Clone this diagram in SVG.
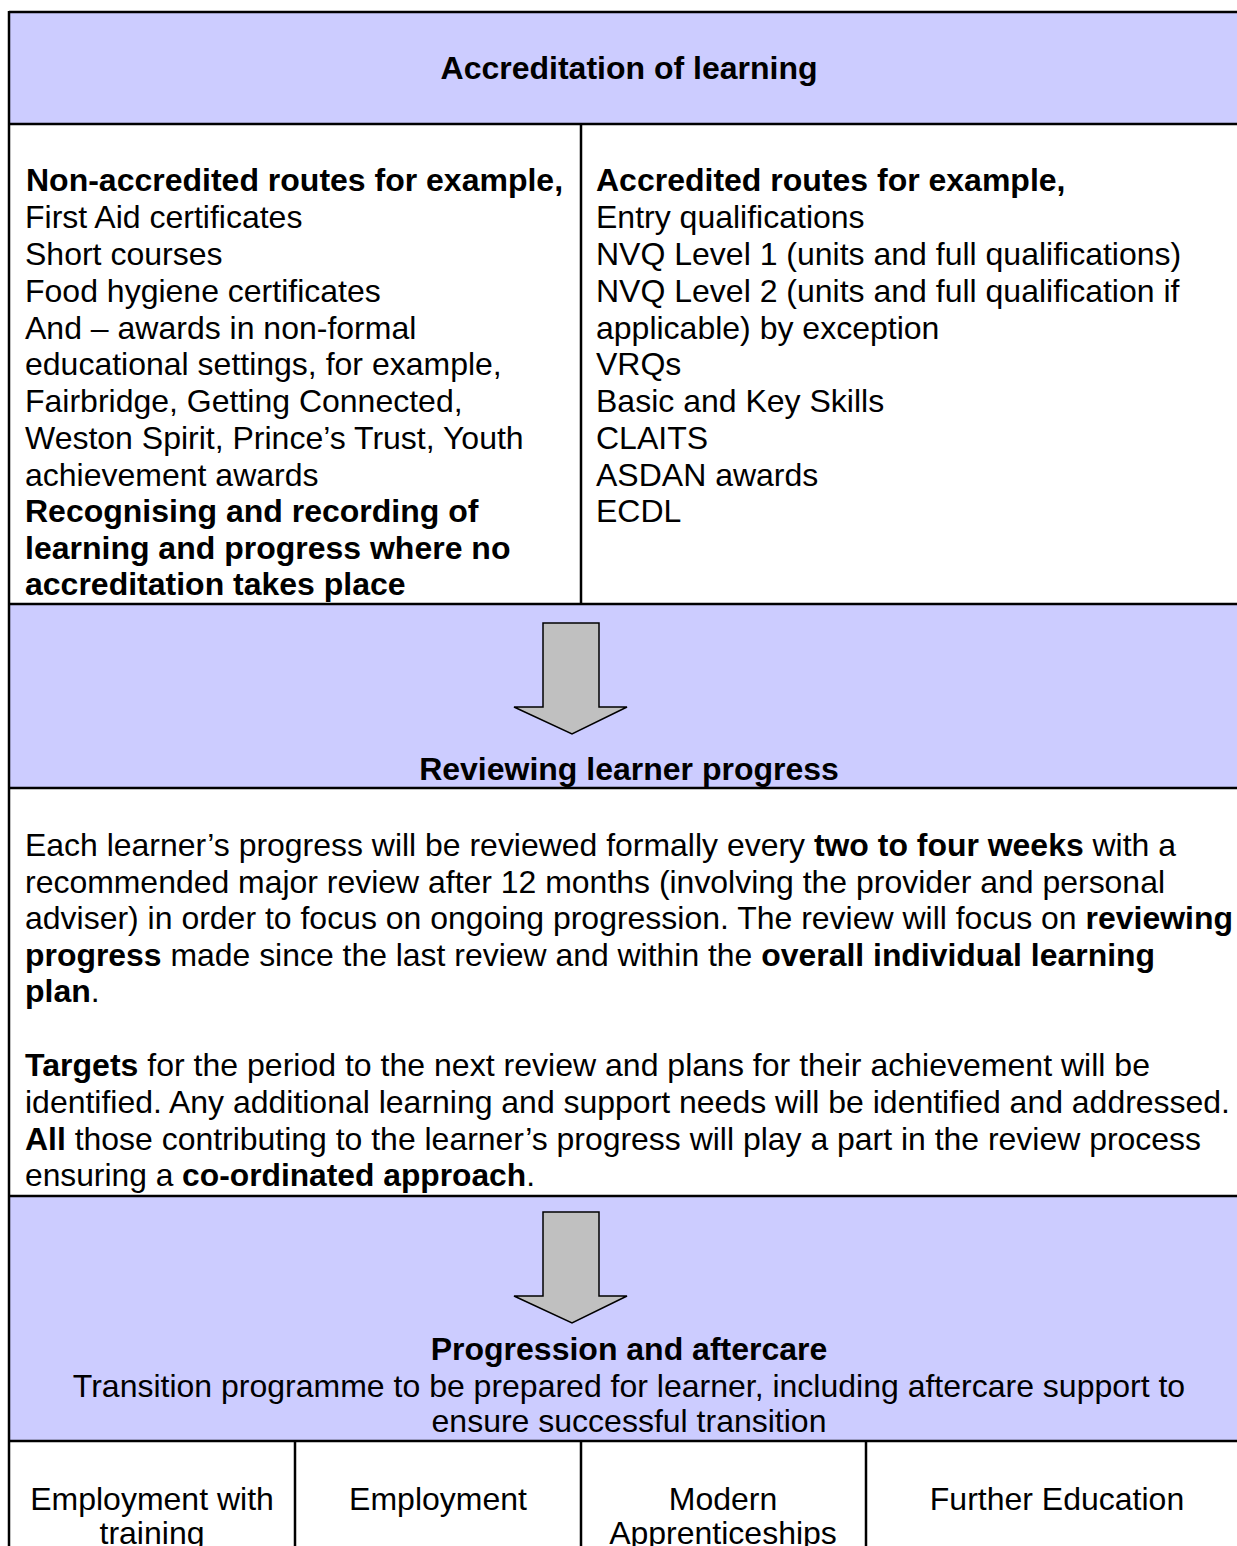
<svg xmlns="http://www.w3.org/2000/svg" width="1237" height="1546" viewBox="0 0 1237 1546">
<style>
text{font-family:"Liberation Sans",Arial,sans-serif;font-size:32px;fill:#000}
.b{font-weight:bold}
.c{text-anchor:middle}
.band{fill:#CCCCFF}
.ln{stroke:#000;stroke-width:2.5;fill:none}
.arrow{fill:#C0C0C0;stroke:#000;stroke-width:1.5;stroke-linejoin:miter}
</style>
<defs>
<path id="arr" class="arrow" d="M543,0 H599 V84 H627 L572,111 L514,84 H543 Z"/>
</defs>
<rect x="0" y="0" width="1237" height="1546" fill="#fff"/>

<g id="accreditation-header">
<rect class="band" x="9" y="12" width="1240" height="112"/>
<text class="b c" x="629" y="79">Accreditation of learning</text>
</g>

<g id="non-accredited">
<text x="26" y="191" class="b">Non-accredited routes for example,</text>
<text x="25" y="228">First Aid certificates</text>
<text x="25" y="265">Short courses</text>
<text x="25" y="302">Food hygiene certificates</text>
<text x="25" y="339">And – awards in non-formal</text>
<text x="25" y="375">educational settings, for example,</text>
<text x="25" y="412">Fairbridge, Getting Connected,</text>
<text x="25" y="449">Weston Spirit, Prince’s Trust, Youth</text>
<text x="25" y="486">achievement awards</text>
<text x="25" y="522" class="b">Recognising and recording of</text>
<text x="25" y="559" class="b">learning and progress where no</text>
<text x="25" y="595" class="b">accreditation takes place</text>
</g>

<g id="accredited">
<text x="596" y="191" class="b">Accredited routes for example,</text>
<text x="596" y="228">Entry qualifications</text>
<text x="596" y="265">NVQ Level 1 (units and full qualifications)</text>
<text x="596" y="302">NVQ Level 2 (units and full qualification if</text>
<text x="596" y="339">applicable) by exception</text>
<text x="596" y="375">VRQs</text>
<text x="596" y="412">Basic and Key Skills</text>
<text x="596" y="449">CLAITS</text>
<text x="596" y="486">ASDAN awards</text>
<text x="596" y="522">ECDL</text>
</g>

<g id="reviewing-header">
<rect class="band" x="9" y="604" width="1240" height="184"/>
<text class="b c" x="629" y="780">Reviewing learner progress</text>
</g>

<g id="review-text">
<text x="25" y="856" textLength="1151" lengthAdjust="spacingAndGlyphs">Each learner’s progress will be reviewed formally every <tspan class="b">two to four weeks</tspan> with a</text>
<text x="25" y="893" textLength="1140" lengthAdjust="spacingAndGlyphs">recommended major review after 12 months (involving the provider and personal</text>
<text x="25" y="929" textLength="1208" lengthAdjust="spacingAndGlyphs">adviser) in order to focus on ongoing progression. The review will focus on <tspan class="b">reviewing</tspan></text>
<text x="25" y="966" textLength="1130" lengthAdjust="spacingAndGlyphs"><tspan class="b">progress</tspan> made since the last review and within the <tspan class="b">overall individual learning</tspan></text>
<text x="25" y="1002"><tspan class="b">plan</tspan>.</text>
<text x="25" y="1076" textLength="1125" lengthAdjust="spacingAndGlyphs"><tspan class="b">Targets</tspan> for the period to the next review and plans for their achievement will be</text>
<text x="25" y="1113" textLength="1205" lengthAdjust="spacingAndGlyphs">identified. Any additional learning and support needs will be identified and addressed.</text>
<text x="25" y="1150" textLength="1176" lengthAdjust="spacingAndGlyphs"><tspan class="b">All</tspan> those contributing to the learner’s progress will play a part in the review process</text>
<text x="25" y="1186" textLength="510" lengthAdjust="spacingAndGlyphs">ensuring a <tspan class="b">co-ordinated approach</tspan>.</text>
</g>

<g id="progression-header">
<rect class="band" x="9" y="1196" width="1240" height="245"/>
<text class="b c" x="629" y="1360">Progression and aftercare</text>
<text class="c" x="629" y="1397">Transition programme to be prepared for learner, including aftercare support to</text>
<text class="c" x="629" y="1432">ensure successful transition</text>
</g>

<g id="outcome-employment-training">
<text class="c" x="152" y="1510">Employment with</text>
<text class="c" x="152" y="1544">training</text>
</g>
<g id="outcome-employment">
<text class="c" x="438" y="1510">Employment</text>
</g>
<g id="outcome-apprenticeships">
<text class="c" x="723" y="1510">Modern</text>
<text class="c" x="723" y="1544">Apprenticeships</text>
</g>
<g id="outcome-fe">
<text class="c" x="1057" y="1510">Further Education</text>
</g>

<g id="grid-lines">
<path class="ln" d="M9,12 H1237 M9,124 H1237 M9,604 H1237 M9,788 H1237 M9,1196 H1237 M9,1441 H1237"/>
<path class="ln" d="M9,11 V1546 M581,124 V604 M295,1441 V1546 M581,1441 V1546 M866,1441 V1546"/>
</g>

<g id="connectors">
<use href="#arr" transform="translate(0,623)"/>
<use href="#arr" transform="translate(0,1212)"/>
</g>
</svg>
